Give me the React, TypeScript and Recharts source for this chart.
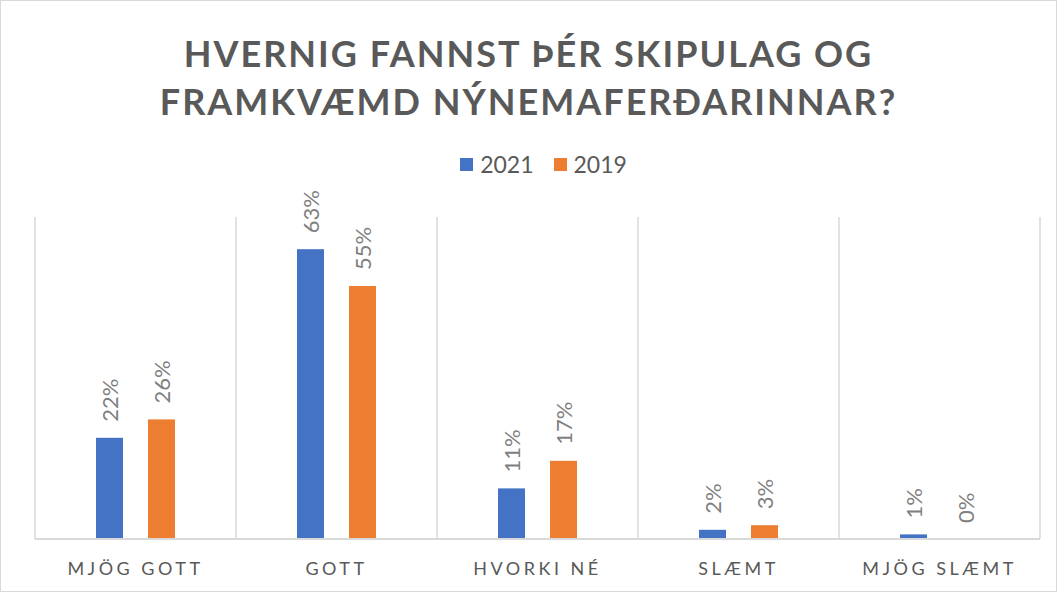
import React from 'react';
import { BarChart, Bar, XAxis, YAxis, CartesianGrid, Legend } from 'recharts';

const categories = ['MJÖG GOTT', 'GOTT', 'HVORKI NÉ', 'SLÆMT', 'MJÖG SLÆMT'];
const values2021 = [22, 63, 11, 2, 1];
const values2019 = [26, 55, 17, 3, 0];
const seriesNames = ['2021', '2019'];
const titleLines = ['HVERNIG FANNST ÞÉR SKIPULAG OG', 'FRAMKVÆMD NÝNEMAFERÐARINNAR?'];

const data = categories.map((c, i) => ({ name: c, s2021: values2021[i], s2019: values2019[i] }));

const BLUE = '#4472C4';
const ORANGE = '#ED7D31';
const TEXT = '#595959';
const FONT = 'Lato, "Open Sans", sans-serif';

const W = 1057;
const H = 592;

const makeShape = (fill: string, key: string) => (props: any) => {
  const { x, y, width, height, payload } = props;
  const value = payload[key];
  const cx = Number(x) + Number(width) / 2;
  const top = Math.min(Number(y), Number(y) + Number(height));
  const cy = top - 16;
  return (
    <g>
      {Math.abs(Number(height)) > 0 && (
        <rect x={x} y={top} width={width} height={Math.abs(Number(height))} fill={fill} />
      )}
      <text
        x={cx}
        y={cy}
        transform={`rotate(-90 ${cx} ${cy})`}
        textAnchor="start"
        dominantBaseline="central"
        fill="#7F7F7F"
        fontSize={22}
        fontFamily={FONT}
      >
        {`${value}%`}
      </text>
    </g>
  );
};

const LegendContent = () => (
  <div style={{ display: 'flex', justifyContent: 'center', gap: 20, fontFamily: FONT, fontSize: 23, color: TEXT, paddingLeft: 30 }}>
    {seriesNames.map((n, i) => (
      <div key={n} style={{ display: 'flex', alignItems: 'center' }}>
        <span style={{ display: 'inline-block', width: 13, height: 13, background: i === 0 ? BLUE : ORANGE, marginRight: 7 }} />
        <span>{n}</span>
      </div>
    ))}
  </div>
);

const Tick = (props: any) => {
  const { x, y, payload } = props;
  return (
    <text x={x} y={Number(y) + 28} textAnchor="middle" fill={TEXT} fontSize={18} fontFamily={FONT} letterSpacing={3.5}>
      {payload.value}
    </text>
  );
};

export default function App() {
  return (
    <div style={{ position: 'fixed', left: 0, top: 0, width: W, height: H, background: '#fff' }}>
      <div style={{ position: 'absolute', left: 0, top: 0, width: W - 2, height: H - 2, border: '1px solid #D9D9D9' }} />
      <div
        style={{
          position: 'absolute',
          left: 0,
          top: 29,
          width: W,
          textAlign: 'center',
          fontFamily: FONT,
          fontWeight: 700,
          fontSize: 36,
          lineHeight: '48px',
          letterSpacing: 2,
          color: TEXT,
        }}
      >
        {titleLines.map((l) => (
          <div key={l}>{l}</div>
        ))}
      </div>
      <BarChart
        width={W}
        height={H}
        data={data}
        margin={{ top: 217, right: 17, left: 35, bottom: 0 }}
        barSize={27}
        barGap={25}
      >
        <CartesianGrid
          horizontal={false}
          vertical
          stroke="#D9D9D9"
          strokeWidth={1.5}
          verticalCoordinatesGenerator={({ offset }: any) =>
            Array.from({ length: categories.length + 1 }, (_, i) => offset.left + (i * offset.width) / categories.length)
          }
        />
        <XAxis
          dataKey="name"
          height={53}
          tickLine={false}
          axisLine={{ stroke: '#D9D9D9', strokeWidth: 2 }}
          tick={<Tick />}
          interval={0}
        />
        <YAxis hide domain={[0, 70]} />
        <Legend
          layout="horizontal"
          verticalAlign="middle"
          align="center"
          content={<LegendContent />}
          wrapperStyle={{ top: 150, left: 0, width: W }}
        />
        <Bar dataKey="s2021" name="2021" fill={BLUE} isAnimationActive={false} shape={makeShape(BLUE, 's2021')} />
        <Bar dataKey="s2019" name="2019" fill={ORANGE} isAnimationActive={false} shape={makeShape(ORANGE, 's2019')} />
      </BarChart>
    </div>
  );
}
